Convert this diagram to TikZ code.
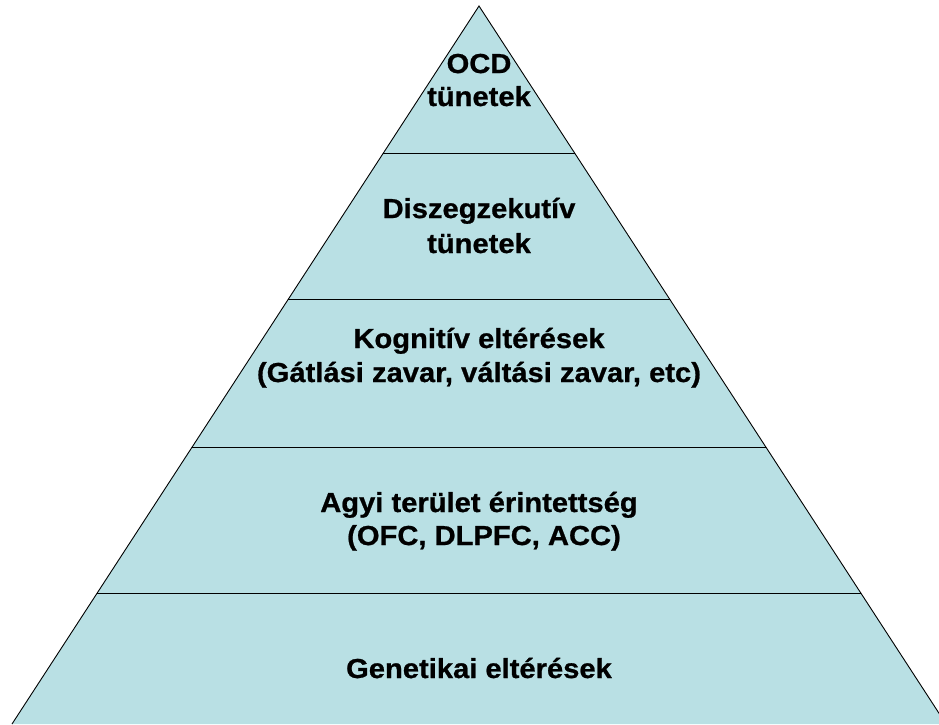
\documentclass[tikz,border=0pt]{standalone}
\usepackage{fontspec}
\setmainfont{Liberation Sans}[FakeStretch=1.06,BoldFeatures={FakeBold=0.8}]
\definecolor{pyrfill}{RGB}{185,224,228}
\begin{document}
\begin{tikzpicture}[x=1pt,y=-1pt,
  lbl/.style={anchor=base,inner sep=0pt,font=\fontsize{27.5}{33}\selectfont\bfseries},
  sep/.style={draw=black,line width=0.9pt}]
\useasboundingbox (0,0) rectangle (939,724);
\coordinate (apex) at (479,6);
\coordinate (bl) at (12,724);
\coordinate (br) at (946,724);
\begin{scope}
\clip (0,0) rectangle (939,724);
\fill[pyrfill] (apex) -- (bl) -- (br) -- cycle;
\begin{scope}
\clip (apex) -- (bl) -- (br) -- cycle;
\coordinate (l1a) at (0,153); \coordinate (l1b) at (939,153);
\coordinate (l2a) at (0,299); \coordinate (l2b) at (939,299);
\coordinate (l3a) at (0,447); \coordinate (l3b) at (939,447);
\coordinate (l4a) at (0,593); \coordinate (l4b) at (939,593);
\draw[sep] (l1a) -- (l1b);
\draw[sep] (l2a) -- (l2b);
\draw[sep] (l3a) -- (l3b);
\draw[sep] (l4a) -- (l4b);
\end{scope}
\draw[sep,line join=miter] (bl) -- (apex) -- (br);
\end{scope}
\node[lbl] (ocd1) at (479,73) {OCD};
\node[lbl] (ocd2) at (479,106) {tünetek};
\node[lbl] (dis1) at (479,218) {Diszegzekutív};
\node[lbl] (dis2) at (479,253) {tünetek};
\node[lbl] (kog1) at (479,348) {Kognitív eltérések};
\node[lbl] (kog2) at (479,382) {(Gátlási zavar, váltási zavar, etc)};
\node[lbl] (agy1) at (479,512) {Agyi terület érintettség};
\node[lbl] (agy2) at (484,545) {(OFC, DLPFC, ACC)};
\node[lbl] (gen1) at (479,678) {Genetikai eltérések};
\end{tikzpicture}
\end{document}
